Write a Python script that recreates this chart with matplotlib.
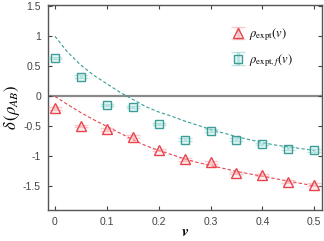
import matplotlib
matplotlib.use("Agg")
import matplotlib.pyplot as plt

# data
v = [0.0, 0.05, 0.1, 0.15, 0.2, 0.25, 0.3, 0.35, 0.4, 0.45, 0.5]
rho_expt = [-0.20, -0.49, -0.55, -0.67, -0.89, -1.05, -1.10, -1.28, -1.31, -1.42, -1.47]
rho_expt_f = [0.64, 0.33, -0.14, -0.18, -0.46, -0.72, -0.57, -0.72, -0.79, -0.87, -0.90]
err = [0.02] * 11

v_curve = [0.0, 0.025, 0.05, 0.075, 0.1, 0.125, 0.15, 0.175, 0.2, 0.225, 0.25,
           0.275, 0.3, 0.325, 0.35, 0.375, 0.4, 0.425, 0.45, 0.475, 0.5]
red_curve = [0.00, -0.14, -0.27, -0.39, -0.50, -0.61, -0.72, -0.82, -0.90, -0.97, -1.04,
             -1.10, -1.15, -1.20, -1.25, -1.29, -1.33, -1.37, -1.41, -1.45, -1.49]
cyan_curve = [1.00, 0.73, 0.52, 0.35, 0.21, 0.07, -0.05, -0.17, -0.26, -0.33, -0.41,
              -0.48, -0.55, -0.61, -0.67, -0.72, -0.77, -0.81, -0.84, -0.87, -0.90]

xticks = [0, 0.1, 0.2, 0.3, 0.4, 0.5]
xticklabels = ["0", "0.1", "0.2", "0.3", "0.4", "0.5"]
yticks = [-1.5, -1, -0.5, 0, 0.5, 1, 1.5]
yticklabels = ["-1.5", "-1", "-0.5", "0", "0.5", "1", "1.5"]

plt.rcParams['mathtext.fontset'] = 'stix'
plt.rcParams['font.family'] = ['Liberation Sans', 'DejaVu Sans']

RED = '#e8434a'
CYAN = '#3a9d98'

fig = plt.figure(figsize=(3.24, 2.41), dpi=100)
ax = fig.add_axes([0.148, 0.129, 0.846, 0.85])

ax.axhline(0, color='#8a8a8a', lw=1.6, zorder=1)

ax.plot(v_curve, red_curve, ls=(0, (3, 2)), color=RED, lw=0.8, zorder=2)
ax.plot(v_curve, cyan_curve, ls=(0, (3, 2)), color=CYAN, lw=0.8, zorder=2)

ax.errorbar(v, rho_expt, yerr=err, fmt='^', ms=7.5, mfc=(1.0, 0.8, 0.82, 0.25),
            mec=RED, mew=1.0, ecolor=(0.95, 0.55, 0.58, 0.45), elinewidth=2.5,
            capsize=5, capthick=2.0, zorder=4, label=r'$\rho_{\rm expt}(v)$')
ax.errorbar(v, rho_expt_f, yerr=err, fmt='s', ms=5.5, mfc=(0.7, 0.9, 0.88, 0.25),
            mec=CYAN, mew=1.0, ecolor=(0.45, 0.78, 0.76, 0.45), elinewidth=2.5,
            capsize=5, capthick=2.0, zorder=4, label=r'$\rho_{{\rm expt},f}(v)$')

ax.set_xlim(-0.0135, 0.515)
ax.set_ylim(-1.89, 1.52)
ax.set_xticks(xticks)
ax.set_xticklabels(xticklabels)
ax.set_yticks(yticks)
ax.set_yticklabels(yticklabels)
ax.tick_params(direction='in', top=True, right=True, length=3, width=0.8,
               labelsize=7.5, colors='#444444', pad=5)
for s in ax.spines.values():
    s.set_color('#555555')
    s.set_linewidth(1.0)

ax.set_xlabel(r'$\boldsymbol{v}$', fontsize=11, labelpad=-1)
ax.set_ylabel(r'$\delta\,(\rho_{AB})$', fontsize=12, labelpad=1)

leg = ax.legend(loc='upper right', bbox_to_anchor=(0.935, 0.95), frameon=False,
                fontsize=9, handlelength=1.0, handletextpad=0.4, labelspacing=0.7)

fig.savefig('out.png', dpi=100)
